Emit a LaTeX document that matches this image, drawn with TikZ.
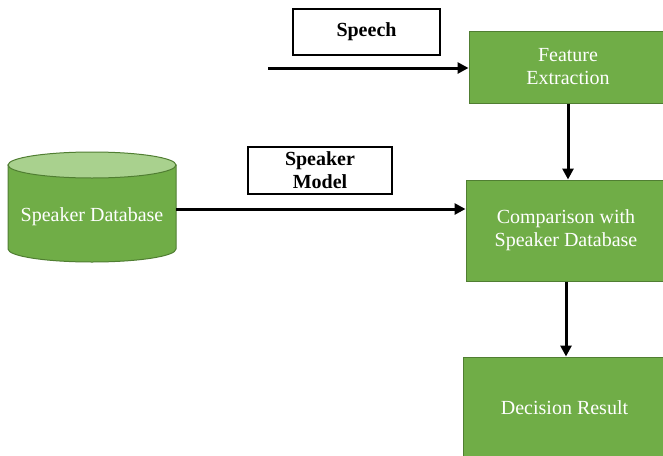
\documentclass[tikz,border=0pt]{standalone}
\usepackage{fontspec}
\setmainfont{Liberation Serif}
\usetikzlibrary{arrows.meta}
\definecolor{boxgreen}{HTML}{70AD47}
\definecolor{edgegreen}{HTML}{507E32}
\definecolor{topgreen}{HTML}{A9D18E}
\tikzset{gb/.style = {rectangle, fill=boxgreen, draw=edgegreen, line width=1pt, text=white, align=center, font=\fontsize{20}{23}\selectfont, inner sep=0pt},
           lb/.style = {rectangle, draw, line width=1.5pt, fill=white, align=center, font=\fontsize{20}{23}\selectfont\bfseries, inner sep=0pt},
           ar/.style = {line width=3pt, -{Triangle[length=11pt,width=11pt]}}}

\begin{document}
\begin{tikzpicture}[x=1pt, y=-1pt]
    \useasboundingbox (0,0) rectangle (663,455);
    \clip (0,0) rectangle (663,455);
    % speaker database cylinder
    \filldraw[fill=boxgreen, draw=edgegreen, line width=1pt] (8,165) -- (8,249) arc[start angle=180, end angle=360, x radius=84pt, y radius=13pt] -- (176,165) -- cycle;
    \filldraw[fill=topgreen, draw=edgegreen, line width=1pt] (92,165) ellipse [x radius=84pt, y radius=13pt];
    \node[text=white, font=\fontsize{20}{23}\selectfont] (db) at (92,217) {Speaker Database};
    \coordinate (dbR) at (176,209);
    \coordinate (src) at (268,68);
    % labels
    \node[lb, minimum width=147, minimum height=46] (speech) at (366.5,32) {Speech};
    \node[lb, minimum width=144, minimum height=47] (model) at (320,170.5) {Speaker\\Model};
    % green boxes
    \node[gb, minimum width=198, minimum height=72]  (feat) at (568,67)    {Feature\\Extraction};
    \node[gb, minimum width=200, minimum height=101] (comp) at (566,230.5) {Comparison with\\Speaker Database};
    \node[gb, minimum width=203, minimum height=102] (dec)  at (564.5,408) {Decision Result};
    % arrows
    \draw[ar] (src) -- (src -| feat.west);
    \draw[ar] (dbR) -- (dbR -| comp.west);
    \draw[ar] (feat.south) -- (feat.south |- comp.north);
    \draw[ar] (comp.south) -- (comp.south |- dec.north);
\end{tikzpicture}
\end{document}
